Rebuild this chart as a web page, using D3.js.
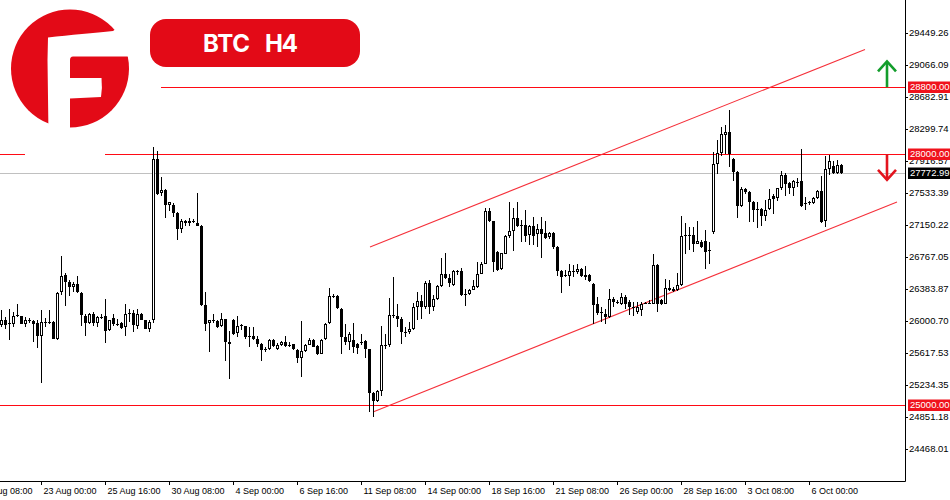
<!DOCTYPE html>
<html><head><meta charset="utf-8">
<script src="https://cdn.jsdelivr.net/npm/d3@7"></script>
<style>html,body{margin:0;padding:0;background:#fff;}svg{display:block;}</style>
</head><body>
<svg id="chart" width="950" height="500"></svg>
<script>
// ---- DATA ----
const title = ["BTC", "H4"];
const firstBarIndex = 0;
// OHLC per H4 bar [open, high, low, close]
const ohlc = [
[25950,26137,25930,26010],[26010,26050,25902,25950],[25978,26149,25771,25982],[25962,26109,25930,26057],
[26061,26209,26050,26069],[26057,26065,25966,25970],[25962,26050,25930,26010],[26006,26038,25982,26014],
[25998,26010,25751,25970],[25978,26018,25683,25823],[25827,26137,25262,25990],[25990,26038,25930,25994],
[25986,26137,25962,25994],[25990,26000,25783,25787],[25783,26345,25779,26340],[26348,26774,26308,26543],
[26547,26575,26181,26467],[26467,26487,26300,26408],[26408,26467,26348,26448],[26448,26535,26336,26348],
[26340,26348,25942,26073],[26065,26089,25823,25978],[25978,26095,25970,26089],[26089,26109,25938,25978],
[25978,26061,25930,26046],[26046,26081,26030,26054],[26057,26261,25739,25882],[25890,26018,25882,26010],
[26042,26081,25942,25962],[25966,26022,25946,25970],[25978,25990,25910,25922],[25930,26201,25823,26089],
[26093,26141,25990,26101],[26101,26137,25866,25950],[25946,26141,25910,26089],[26089,26100,26010,26018],
[26010,26018,25900,25906],[25906,26010,25870,25994],[26010,28087,25978,27940],[27940,28040,27514,27522],
[27534,27729,27502,27570],[27570,27582,27232,27391],[27391,27431,27323,27423],[27395,27419,27252,27299],
[27299,27303,26973,27100],[27104,27224,27053,27204],[27204,27212,27144,27172],[27172,27236,27144,27204],
[27204,27224,27172,27184],[27176,27538,27140,27140],[27144,27152,26181,26193],[26189,26348,25882,25970],
[25982,26018,25624,26010],[26006,26089,25982,26012],[26002,26010,25922,25930],[25942,26101,25930,26022],
[26022,26026,25524,25755],[25751,25882,25301,25723],[26010,26022,25839,25851],[25859,26057,25811,25942],
[25946,25970,25890,25954],[25938,25946,25783,25811],[25818,25930,25691,25822],[25818,25930,25771,25783],
[25790,25818,25691,25723],[25731,25739,25524,25659],[25659,25691,25631,25663],[25671,25790,25659,25779],
[25779,25790,25691,25703],[25671,25739,25651,25711],[25711,25760,25700,25755],[25755,25818,25691,25703],
[25715,25751,25691,25719],[25723,25731,25659,25671],[25659,25671,25500,25552],[25552,26001,25333,25639],
[25639,25731,25631,25711],[25719,25802,25711,25771],[25771,25780,25685,25691],[25703,25711,25591,25603],
[25611,25790,25603,25779],[25790,25978,25779,25962],[25978,26396,25962,26300],[26300,26328,26280,26304],
[26296,26308,26141,26153],[26149,26157,25603,25810],[25810,25970,25711,25751],[25751,25870,25651,25850],
[25771,25978,25619,25691],[25731,25739,25611,25683],[25743,25850,25711,25747],[25759,25771,25552,25663],
[25663,25671,24915,25134],[25134,25146,24855,25046],[25046,25174,25034,25166],[25166,25938,25102,25711],
[25711,25842,25671,25719],[25711,26276,25691,26069],[26069,26527,26041,26065],[26061,26209,25930,26029],
[26021,26049,25731,25870],[25870,25930,25810,25874],[25870,25990,25850,25902],[25902,26217,25890,26169],
[26169,26348,26017,26241],[26241,26308,26029,26169],[26169,26475,26149,26459],[26459,26487,26089,26169],
[26169,26316,26117,26260],[26260,26427,26249,26416],[26416,26754,26408,26567],[26567,26814,26507,26519],
[26515,26567,26408,26459],[26427,26607,26416,26599],[26599,26607,26547,26603],[26599,26639,26296,26308],
[26324,26388,26181,26328],[26328,26388,26308,26368],[26376,26487,26368,26416],[26408,26706,26400,26567],
[26567,26706,26559,26678],[26686,27355,26678,27315],[27323,27355,27184,27196],[27196,27204,26587,26706],
[26826,26838,26599,26615],[26623,26820,26610,26814],[26806,27025,26798,27013],[27017,27423,26997,27084],
[27084,27355,26838,27236],[27236,27423,27132,27144],[27148,27212,26945,27152],[27152,27331,26945,27017],
[27025,27152,26905,27144],[27144,27252,26905,27017],[27037,27164,26885,27104],[27104,27252,26758,27037],
[27053,27196,26985,26997],[27005,27064,26985,27053],[27053,27064,26865,26885],[26885,26893,26535,26599],
[26599,26615,26336,26527],[26543,26607,26527,26547],[26535,26686,26416,26599],[26595,26666,26527,26599],
[26587,26686,26559,26619],[26619,26639,26527,26535],[26547,26654,26487,26527],[26547,26559,26467,26479],
[26448,26456,25962,26189],[26201,26288,26069,26097],[26101,26168,25989,26105],[26089,26149,25969,26049],
[26049,26388,26041,26268],[26268,26288,26168,26228],[26228,26256,26200,26232],[26208,26336,26188,26288],
[26288,26308,26149,26200],[26228,26248,26069,26168],[26160,26228,26057,26164],[26109,26228,26089,26168],
[26129,26228,26061,26208],[26216,26228,26200,26220],[26216,26248,26200,26220],[26208,26798,26200,26675],
[26675,26687,26109,26208],[26256,26268,26188,26200],[26208,26507,26200,26400],[26400,26487,26360,26368],
[26388,26408,26348,26360],[26368,26575,26360,26428],[26428,27264,26416,27013],[27025,27172,26806,27029],
[27025,27124,26846,27021],[27025,27132,26826,26925],[26925,27196,26917,26957],[26945,26965,26880,26885],
[26957,27085,26627,26826],[26846,26945,26687,26838],[27065,28020,27045,27881],[27881,28167,27761,28012],
[28012,28318,27980,28239],[28227,28350,28000,28267],[28267,28526,27841,28000],[27940,27952,27682,27781],
[27781,27793,27236,27383],[27383,27602,27363,27582],[27582,27594,27523,27542],[27542,27562,27184,27423],
[27423,27443,27184,27332],[27336,27423,27116,27332],[27343,27355,27144,27264],[27264,27455,27204,27332],
[27343,27582,27332,27463],[27503,27523,27284,27463],[27475,27594,27443,27590],[27590,27793,27570,27753],
[27753,27769,27503,27642],[27650,27662,27523,27594],[27594,27690,27503,27674],[27670,27710,27602,27662],
[27674,28060,27371,27383],[27411,27483,27324,27415],[27419,27443,27395,27423],[27411,27483,27403,27475],
[27475,27570,27463,27562],[27562,27741,27172,27184],[27196,27980,27132,27821],[27821,27992,27753,27913],
[27861,27921,27761,27769],[27769,27929,27761,27869],[27869,27881,27761,27772.99]
];
const priceTicks = [29449.26,29066.09,28682.91,28299.74,27916.57,27533.39,27150.22,26767.05,26383.87,26000.70,25617.53,25234.35,24851.18,24468.01];
const timeLabels = ["18 Aug 08:00","23 Aug 00:00","25 Aug 16:00","30 Aug 08:00","4 Sep 00:00","6 Sep 16:00","11 Sep 08:00","14 Sep 00:00","18 Sep 16:00","21 Sep 08:00","26 Sep 00:00","28 Sep 16:00","3 Oct 08:00","6 Oct 00:00"];
const timeLabelBars = [-6,10,26,42,58,74,90,106,122,138,154,170,186,202];
const levels = [28800, 28000, 25000];
const levelStartBars = [40, null, null];
const currentPrice = 27772.99;
const channelUpper = [[92.25, 26887],[216, 29252]];
const channelLower = [[93, 24911],[224, 27426]];
const arrowUp = {bar: 221.5, from: 28800, to: 29110};
const arrowDown = {bar: 221.5, from: 28000, to: 27690};

// ---- LAYOUT ----
const W = 950, H = 500, plotR = 905, plotB = 481;
const RED = "#e30a17", LINE_RED = "#ff0a14", GREEN = "#139d2c";
const svg = d3.select("#chart");
const x = d3.scaleLinear().domain([0, 1]).range([1, 5]);
const y = d3.scaleLinear().domain([24085, 29844.4]).range([plotB, 0]);
const font = "'Liberation Sans', Arial, sans-serif";

svg.append("defs").append("clipPath").attr("id","plot")
  .append("rect").attr("x",0).attr("y",0).attr("width",plotR).attr("height",plotB);
const g = svg.append("g").attr("clip-path","url(#plot)");

// current price line
g.append("line").attr("x1",0).attr("x2",plotR)
  .attr("y1",Math.round(y(currentPrice))+0.5).attr("y2",Math.round(y(currentPrice))+0.5)
  .attr("stroke","#c0c0c0").attr("stroke-width",1);

// level lines
levels.forEach((lv,i)=>{
  const yy = Math.round(y(lv))+0.5;
  const x0 = levelStartBars[i]==null ? 0 : x(levelStartBars[i]);
  g.append("line").attr("x1",x0).attr("x2",plotR).attr("y1",yy).attr("y2",yy)
    .attr("stroke",LINE_RED).attr("stroke-width",1);
});

// channel lines
[channelUpper, channelLower].forEach(seg=>{
  g.append("line")
    .attr("x1",x(seg[0][0])).attr("y1",y(seg[0][1]))
    .attr("x2",x(seg[1][0])).attr("y2",y(seg[1][1]))
    .attr("stroke","#f5303a").attr("stroke-width",1.1);
});

// candles
const cg = g.append("g").attr("shape-rendering","crispEdges");
ohlc.forEach((d,i)=>{
  const [o,h,l,c] = d;
  const cx = Math.round(x(firstBarIndex + i));
  const yh = Math.round(y(h)), yl = Math.round(y(l));
  cg.append("rect").attr("x",cx).attr("y",yh).attr("width",1).attr("height",Math.max(1,yl-yh)).attr("fill","#000");
  const top = Math.round(y(Math.max(o,c))), bot = Math.round(y(Math.min(o,c)));
  const bh = Math.max(1, bot-top);
  if (c >= o && bh > 2) {
    cg.append("rect").attr("x",cx-0.5).attr("y",top+0.5).attr("width",2).attr("height",bh-1)
      .attr("fill","#fff").attr("stroke","#000").attr("stroke-width",1);
  } else {
    cg.append("rect").attr("x",cx-1).attr("y",top).attr("width",3).attr("height",bh).attr("fill","#000");
  }
});

// white backdrop of logo
svg.append("rect").attr("x",25).attr("y",0).attr("width",80).attr("height",157).attr("fill","#fff");

// axes frame
svg.append("line").attr("x1",0).attr("x2",plotR+0.5).attr("y1",plotB+0.5).attr("y2",plotB+0.5).attr("stroke","#000");
svg.append("line").attr("x1",plotR+0.5).attr("x2",plotR+0.5).attr("y1",0).attr("y2",plotB+0.5).attr("stroke","#000");

// price axis
const ya = svg.append("g");
priceTicks.forEach(p=>{
  const yy = Math.round(y(p))+0.5;
  ya.append("line").attr("x1",plotR).attr("x2",plotR+3).attr("y1",yy).attr("y2",yy).attr("stroke","#000");
  ya.append("text").attr("x",909).attr("y",yy-1).attr("dy","0.35em")
    .attr("font-family",font).attr("font-size","9.5px").attr("fill","#000").text(p.toFixed(2));
});

// time axis
const xa = svg.append("g");
timeLabels.forEach((t,i)=>{
  const xx = Math.round(x(timeLabelBars[i]))+0.5;
  xa.append("line").attr("x1",xx).attr("x2",xx).attr("y1",plotB).attr("y2",plotB+4).attr("stroke","#000");
  xa.append("text").attr("x",xx+2).attr("y",494)
    .attr("font-family",font).attr("font-size","9px").attr("fill","#000").text(t);
});

// price boxes
function priceBox(p, fill){
  const yy = Math.round(y(p));
  svg.append("rect").attr("x",908).attr("y",yy-5.5).attr("width",42).attr("height",11.5).attr("fill",fill);
  svg.append("text").attr("x",910).attr("y",yy).attr("dy","0.36em")
    .attr("font-family",font).attr("font-size","9.5px").attr("fill","#fff").text(p.toFixed(2));
}
levels.forEach(lv=>priceBox(lv, "#f0121c"));
priceBox(currentPrice, "#000");

// arrows
function arrow(a, color, dir){
  const ax = x(a.bar), y0 = y(a.from), y1 = y(a.to);
  const gA = svg.append("g").attr("stroke",color).attr("stroke-width",2.6).attr("fill","none").attr("stroke-linecap","butt");
  gA.append("line").attr("x1",ax).attr("x2",ax).attr("y1",y0).attr("y2",y1+dir*1);
  gA.append("polyline").attr("points",[[ax-9,y1+dir*10],[ax,y1],[ax+9,y1+dir*10]].map(p=>p.join(",")).join(" "));
}
arrow(arrowUp, GREEN, 1);
arrow(arrowDown, "#e3141e", -1);

// logo
const logo = svg.append("g");
logo.append("circle").attr("cx",70).attr("cy",68.5).attr("r",59).attr("fill",RED);
logo.append("path").attr("fill","#fff")
  .attr("d","M48,37.5 C70,35 95,33 113,31 L117,28 L135,28 L135,56.5 L73,56.5 Q70,56.5 70,60 L70,135 L48.5,135 L47.5,60 Z");
logo.append("path").attr("fill","#fff")
  .attr("d","M70,78 L101.5,78 Q102.5,88 101,97 L70,98.5 Z");

// title pill
svg.append("rect").attr("x",150).attr("y",19).attr("width",210).attr("height",48).attr("rx",16).attr("fill",RED);
svg.append("text").attr("x",203).attr("y",52).attr("font-family","Inter, Roboto, sans-serif")
  .attr("font-weight",700).attr("font-size","24px").attr("fill","#fff")
  .attr("textLength",47).attr("lengthAdjust","spacing").text(title[0]);
svg.append("text").attr("x",265).attr("y",52).attr("font-family","Inter, Roboto, sans-serif")
  .attr("font-weight",700).attr("font-size","24px").attr("fill","#fff")
  .attr("textLength",33).attr("lengthAdjust","spacing").text(title[1]);
</script>
</body></html>
